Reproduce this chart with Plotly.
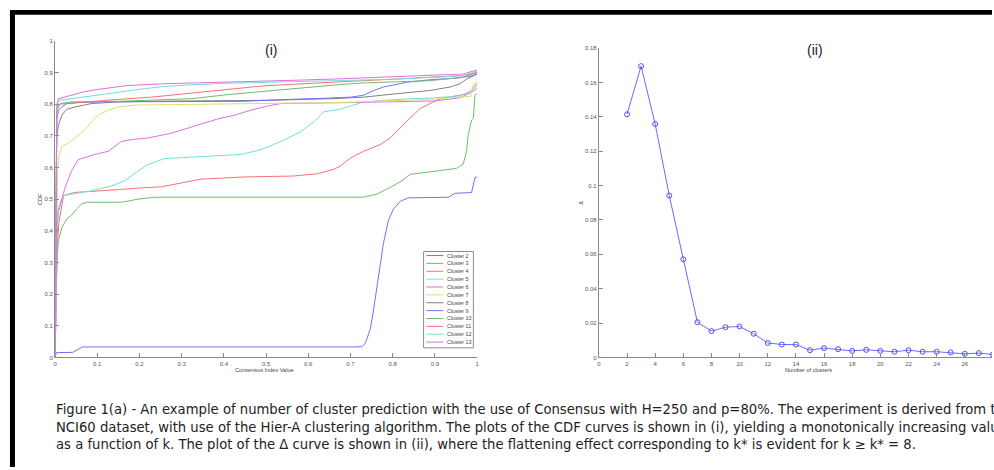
import plotly.graph_objects as go

# ---------------- data ----------------
cluster_names = ["Cluster 2", "Cluster 3", "Cluster 4", "Cluster 5", "Cluster 6", "Cluster 7",
                 "Cluster 8", "Cluster 9", "Cluster 10", "Cluster 11", "Cluster 12", "Cluster 13"]
cluster_colors = ["#7070ff", "#70bb70", "#ff7070", "#70dede", "#df70df", "#dede70",
                  "#808080", "#7070ff", "#70bb70", "#ff7070", "#70dede", "#df70df"]

c2_x = [0, 0.003, 0.042, 0.065, 0.71, 0.727, 0.735, 0.747, 0.755, 0.763, 0.77, 0.778, 0.79, 0.802, 0.818, 0.837, 0.932, 0.947, 0.987, 0.99, 0.995, 1.0]
c2_y = [0, 0.015, 0.016, 0.033, 0.033, 0.034, 0.044, 0.09, 0.153, 0.225, 0.298, 0.36, 0.433, 0.469, 0.493, 0.504, 0.506, 0.518, 0.521, 0.542, 0.568, 0.57]

c3_x = [0, 0.004, 0.008, 0.016, 0.028, 0.039, 0.051, 0.063, 0.075, 0.157, 0.197, 0.236, 0.731, 0.763, 0.794, 0.822, 0.841, 0.888, 0.951, 0.967, 0.975, 0.979, 0.987, 0.991, 0.995, 0.999]
c3_y = [0, 0.30, 0.37, 0.41, 0.438, 0.449, 0.469, 0.485, 0.49, 0.49, 0.50, 0.506, 0.506, 0.516, 0.537, 0.558, 0.578, 0.587, 0.597, 0.61, 0.651, 0.703, 0.75, 0.755, 0.828, 0.833]

c4_x = [0, 0.005, 0.009, 0.02, 0.047, 0.1, 0.15, 0.2, 0.252, 0.346, 0.448, 0.566, 0.621, 0.66, 0.676, 0.70, 0.731, 0.77, 0.794, 0.833, 0.865, 0.896, 0.912, 0.959, 0.975, 0.991, 0.999]
c4_y = [0, 0.35, 0.425, 0.511, 0.521, 0.525, 0.53, 0.535, 0.539, 0.563, 0.570, 0.573, 0.58, 0.594, 0.604, 0.63, 0.651, 0.672, 0.693, 0.745, 0.786, 0.807, 0.817, 0.828, 0.833, 0.848, 0.864]

c5_x = [0, 0.005, 0.009, 0.02, 0.039, 0.087, 0.134, 0.165, 0.197, 0.22, 0.259, 0.37, 0.44, 0.488, 0.535, 0.582, 0.614, 0.637, 0.676, 0.731, 0.81, 0.9, 0.96, 0.99, 1.0]
c5_y = [0, 0.40, 0.464, 0.511, 0.516, 0.526, 0.542, 0.558, 0.589, 0.609, 0.628, 0.636, 0.641, 0.656, 0.682, 0.713, 0.745, 0.776, 0.784, 0.807, 0.815, 0.82, 0.826, 0.845, 0.86]

c6_x = [0, 0.004, 0.006, 0.024, 0.039, 0.055, 0.094, 0.126, 0.157, 0.181, 0.22, 0.275, 0.315, 0.354, 0.385, 0.425, 0.464, 0.503, 0.535, 0.7, 0.9, 0.96, 0.99, 1.0]
c6_y = [0, 0.40, 0.459, 0.537, 0.589, 0.625, 0.641, 0.651, 0.682, 0.688, 0.693, 0.708, 0.724, 0.739, 0.753, 0.765, 0.781, 0.794, 0.802, 0.805, 0.81, 0.82, 0.84, 0.85]

c7_x = [0, 0.004, 0.006, 0.008, 0.016, 0.032, 0.047, 0.071, 0.087, 0.102, 0.126, 0.15, 0.189, 0.244, 0.322, 0.676, 0.889, 0.95, 0.985, 0.99, 1.0]
c7_y = [0, 0.5, 0.589, 0.63, 0.667, 0.677, 0.693, 0.719, 0.745, 0.765, 0.781, 0.791, 0.797, 0.798, 0.80, 0.805, 0.815, 0.82, 0.825, 0.86, 0.87]

c8_x = [0, 0.004, 0.008, 0.016, 0.028, 0.047, 0.087, 0.15, 0.228, 0.5, 0.653, 0.731, 0.81, 0.888, 0.936, 0.959, 0.975, 0.991, 1.0]
c8_y = [0, 0.70, 0.734, 0.765, 0.784, 0.791, 0.802, 0.807, 0.809, 0.812, 0.817, 0.822, 0.833, 0.843, 0.854, 0.864, 0.879, 0.89, 0.895]

c9_x = [0, 0.004, 0.008, 0.016, 0.028, 0.055, 0.11, 0.45, 0.495, 0.582, 0.645, 0.70, 0.731, 0.755, 0.778, 0.833, 0.888, 0.951, 0.991, 1.0]
c9_y = [0, 0.75, 0.781, 0.791, 0.802, 0.805, 0.807, 0.809, 0.812, 0.815, 0.819, 0.822, 0.828, 0.843, 0.854, 0.869, 0.877, 0.882, 0.89, 0.90]

c10_x = [0, 0.004, 0.012, 0.039, 0.15, 0.228, 0.322, 0.409, 0.488, 0.566, 0.676, 0.731, 0.81, 0.888, 0.967, 1.0]
c10_y = [0, 0.78, 0.802, 0.807, 0.809, 0.812, 0.817, 0.83, 0.84, 0.85, 0.862, 0.867, 0.871, 0.874, 0.885, 0.90]

c11_x = [0, 0.004, 0.012, 0.071, 0.15, 0.228, 0.322, 0.409, 0.488, 0.582, 0.676, 0.81, 0.967, 1.0]
c11_y = [0, 0.79, 0.80, 0.807, 0.815, 0.822, 0.835, 0.848, 0.857, 0.864, 0.87, 0.879, 0.89, 0.90]

c12_x = [0, 0.004, 0.008, 0.039, 0.11, 0.189, 0.252, 0.322, 0.409, 0.566, 0.676, 0.81, 0.967, 1.0]
c12_y = [0, 0.80, 0.812, 0.817, 0.83, 0.845, 0.855, 0.861, 0.866, 0.871, 0.875, 0.879, 0.89, 0.905]

c13_x = [0, 0.004, 0.008, 0.039, 0.071, 0.11, 0.173, 0.252, 0.346, 0.464, 0.582, 0.676, 0.81, 0.967, 1.0]
c13_y = [0, 0.786, 0.817, 0.828, 0.84, 0.848, 0.859, 0.864, 0.867, 0.87, 0.876, 0.88, 0.886, 0.895, 0.908]

cdf_x = [c2_x, c3_x, c4_x, c5_x, c6_x, c7_x, c8_x, c9_x, c10_x, c11_x, c12_x, c13_x]
cdf_y = [c2_y, c3_y, c4_y, c5_y, c6_y, c7_y, c8_y, c9_y, c10_y, c11_y, c12_y, c13_y]

k_values = list(range(2, 29))
delta_values = [0.1415, 0.1695, 0.1358, 0.0942, 0.0571, 0.0205, 0.0153, 0.0176, 0.018, 0.0138,
                0.0084, 0.0075, 0.0075, 0.0042, 0.0054, 0.0048, 0.0038, 0.0044, 0.0038, 0.0033,
                0.0042, 0.0033, 0.0033, 0.0029, 0.0021, 0.0025, 0.0017]

cdf_ticks = [0, 0.1, 0.2, 0.3, 0.4, 0.5, 0.6, 0.7, 0.8, 0.9, 1]
cdf_ticktext = ["0", "0.1", "0.2", "0.3", "0.4", "0.5", "0.6", "0.7", "0.8", "0.9", "1"]
k_ticks = list(range(0, 29, 2))
delta_ticks = [0, 0.02, 0.04, 0.06, 0.08, 0.1, 0.12, 0.14, 0.16, 0.18]
delta_ticktext = ["0", "0.02", "0.04", "0.06", "0.08", "0.1", "0.12", "0.14", "0.16", "0.18"]

caption_lines = [
    "Figure 1(a) - An example of number of cluster prediction with the use of Consensus with H=250 and p=80%. The experiment is derived from the",
    "NCI60 dataset, with use of the Hier-A clustering algorithm. The plots of the CDF curves is shown in (i), yielding a monotonically increasing value",
    "as a function of k. The plot of the \u0394 curve is shown in (ii), where the flattening effect corresponding to k* is evident for k \u2265 k* = 8.",
]

# ---------------- figure ----------------
W, H = 994, 470
def px(x):
    return x / W
def py(y):
    return 1 - y / H

fig = go.Figure()
for name, col, xs, ys in zip(cluster_names, cluster_colors, cdf_x, cdf_y):
    fig.add_trace(go.Scatter(x=xs, y=ys, mode="lines", name=name,
                             line=dict(color=col, width=1), xaxis="x", yaxis="y",
                             showlegend=False))

fig.add_trace(go.Scatter(x=k_values, y=delta_values, mode="lines+markers",
                         line=dict(color="#6a6aff", width=1),
                         marker=dict(symbol="circle-open", size=5, color="#5050ff", line=dict(width=1)),
                         xaxis="x2", yaxis="y2", showlegend=False))

tickfont = dict(family="Liberation Sans, Arial, sans-serif", size=6, color="#555555")
axcommon = dict(showgrid=False, zeroline=False, showline=True, linecolor="#8a8a8a", linewidth=1,
                ticks="inside", ticklen=4, tickcolor="#8a8a8a", tickwidth=1, tickfont=tickfont,
                fixedrange=True)

fig.update_layout(
    width=W, height=H, margin=dict(l=0, r=0, t=0, b=0),
    paper_bgcolor="white", plot_bgcolor="white",
    xaxis=dict(domain=[px(53.3), px(477)], range=[0, 1], tickvals=cdf_ticks, ticktext=cdf_ticktext,
               anchor="y", **axcommon),
    yaxis=dict(domain=[py(359), py(38.3)], range=[0, 1], tickvals=cdf_ticks, ticktext=cdf_ticktext,
               anchor="x", **axcommon),
    xaxis2=dict(domain=[px(599.3), 1.0], range=[0, (W - 599.3) / 14.13], tickvals=k_ticks,
                anchor="y2", **axcommon),
    yaxis2=dict(domain=[py(359), py(45.7)], range=[0, 0.18], tickvals=delta_ticks,
                ticktext=delta_ticktext, anchor="x2", **axcommon),
)

ann = []
labfont = dict(family="Liberation Sans, Arial, sans-serif", size=5.6, color="#444444")
legfont = dict(family="Liberation Sans, Arial, sans-serif", size=5.4, color="#444444")
titlefont = dict(family="Liberation Sans, Arial, sans-serif", size=14, color="#222222")

def add_text(text, x, y, font, angle=0, xanchor="center", yanchor="middle"):
    ann.append(dict(text=text, x=px(x), y=py(y), xref="paper", yref="paper", showarrow=False,
                    xanchor=xanchor, yanchor=yanchor, textangle=angle, font=font))

add_text("(i)", 270, 47.5, titlefont)
add_text("(ii)", 816, 48, titlefont)
add_text("Consensus Index Value", 264, 371.3, labfont)
add_text("CDF", 38, 198.7, labfont, angle=-90)
add_text("Number of clusters", 810, 371.3, labfont)
add_text("\u0394", 581.7, 202, labfont, angle=-90)

capfont = dict(family="DejaVu Sans", size=13.2, color="#222222")
for i, line in enumerate(caption_lines):
    add_text(line, 52, 411.5 + 18 * i, capfont, xanchor="left")

shapes = []
# legend box
shapes.append(dict(type="rect", xref="paper", yref="paper", x0=px(423.3), x1=px(473.3),
                   y0=py(349.3), y1=py(251.7), line=dict(color="#8a8a8a", width=1), fillcolor="white"))
for i, (name, col) in enumerate(zip(cluster_names, cluster_colors)):
    yy = 255.8 + 7.97 * i
    shapes.append(dict(type="line", xref="paper", yref="paper", x0=px(426), x1=px(443),
                       y0=py(yy), y1=py(yy), line=dict(color=col, width=1)))
    add_text(name, 444.8, yy, legfont, xanchor="left")

# black frame
shapes.append(dict(type="rect", xref="paper", yref="paper", x0=px(8), x1=1.0, y0=py(12), y1=py(7),
                   line=dict(width=0), fillcolor="black"))
shapes.append(dict(type="rect", xref="paper", yref="paper", x0=px(8), x1=px(13), y0=0, y1=py(7),
                   line=dict(width=0), fillcolor="black"))

fig.update_layout(annotations=ann, shapes=shapes)
fig.write_html("out.html")
